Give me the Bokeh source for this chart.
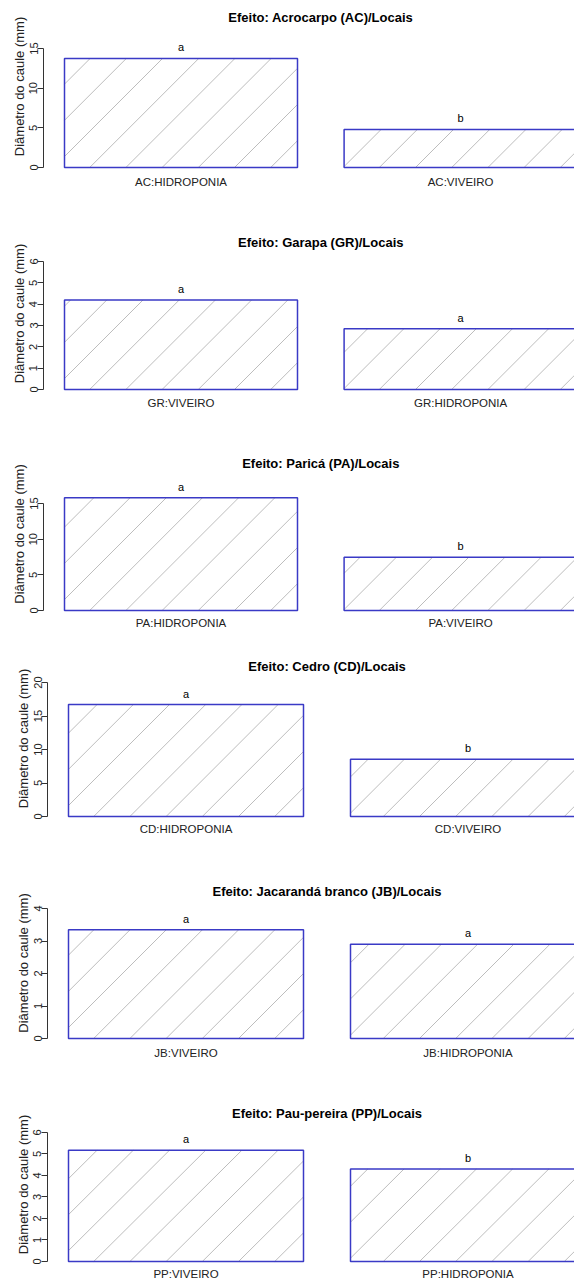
from bokeh.plotting import figure
from bokeh.models import FixedTicker, Range1d, ColumnDataSource
from bokeh.core.properties import value
from bokeh.embed import file_html
from bokeh.resources import INLINE

# ---------------- data ----------------
titles = [
    "Efeito: Acrocarpo (AC)/Locais",
    "Efeito: Garapa (GR)/Locais",
    "Efeito: Paricá (PA)/Locais",
    "Efeito: Cedro (CD)/Locais",
    "Efeito: Jacarandá branco (JB)/Locais",
    "Efeito: Pau-pereira (PP)/Locais",
]
cats_ac = ["AC:HIDROPONIA", "AC:VIVEIRO"]
cats_gr = ["GR:VIVEIRO", "GR:HIDROPONIA"]
cats_pa = ["PA:HIDROPONIA", "PA:VIVEIRO"]
cats_cd = ["CD:HIDROPONIA", "CD:VIVEIRO"]
cats_jb = ["JB:VIVEIRO", "JB:HIDROPONIA"]
cats_pp = ["PP:VIVEIRO", "PP:HIDROPONIA"]

vals_ac = [13.75, 4.8]
vals_gr = [4.2, 2.85]
vals_pa = [15.8, 7.47]
vals_cd = [16.7, 8.55]
vals_jb = [3.35, 2.9]
vals_pp = [5.17, 4.3]

letters_ac = ["a", "b"]
letters_gr = ["a", "a"]
letters_pa = ["a", "b"]
letters_cd = ["a", "b"]
letters_jb = ["a", "a"]
letters_pp = ["a", "b"]

yticks_ac = [0, 5, 10, 15]
yticks_gr = [0, 1, 2, 3, 4, 5, 6]
yticks_pa = [0, 5, 10, 15]
yticks_cd = [0, 5, 10, 15, 20]
yticks_jb = [0, 1, 2, 3, 4]
yticks_pp = [0, 1, 2, 3, 4, 5, 6]

ylabel = "Diâmetro do caule (mm)"

panels = [
    (titles[0], cats_ac, vals_ac, letters_ac, yticks_ac),
    (titles[1], cats_gr, vals_gr, letters_gr, yticks_gr),
    (titles[2], cats_pa, vals_pa, letters_pa, yticks_pa),
    (titles[3], cats_cd, vals_cd, letters_cd, yticks_cd),
    (titles[4], cats_jb, vals_jb, letters_jb, yticks_jb),
    (titles[5], cats_pp, vals_pp, letters_pp, yticks_pp),
]

# ---------------- layout (page pixels) ----------------
fig_top = [0, 233, 454, 657, 882, 1104]
fig_bottom = [233, 454, 657, 882, 1104, 1282]
title_px = [17, 242, 463, 666, 891, 1113]
ytop_px = [48, 261, 503, 682, 908, 1132]
zero_px = [167, 389, 610, 816, 1038, 1262]
xlab_px = [182, 403, 623, 829, 1053, 1275]
frame_left = [43, 43, 43, 47, 47, 47]
bar_left_px = [64, 64, 64, 68, 68, 68]
bar_w_px = [233, 233, 233, 235, 235, 235]
page_right = 574

bar_space = 0.2
bar_width = 1.0

# shading lines (45 deg on screen), spacing and phase in pixels
hatch_step = 36.2
hatch_phase = 10.0

FONT = "Liberation Sans"
BLUE = "#3a3ac6"
HATCH = "#bdbdbd"

figs = []
for i, (title, cats, vals, letters, ticks) in enumerate(panels):
    s = (zero_px[i] - ytop_px[i]) / ticks[-1]
    Ft = fig_top[i]
    Fb = xlab_px[i] - 10
    H = fig_bottom[i] - fig_top[i]
    y0 = -(Fb - zero_px[i]) / s
    y1 = (zero_px[i] - Ft) / s
    pxu = bar_w_px[i]
    x0 = bar_space - (bar_left_px[i] - frame_left[i]) / pxu
    x1 = bar_space + (page_right - bar_left_px[i]) / pxu

    lefts = [bar_space + k * (bar_width + bar_space) for k in range(len(vals))]
    rights = [l + bar_width for l in lefts]
    centers = [l + bar_width / 2 for l in lefts]

    def dx2px(x):
        return frame_left[i] + (x - x0) * pxu

    def px2dx(px):
        return x0 + (px - frame_left[i]) / pxu

    def dy2px(y):
        return zero_px[i] - y * s

    def px2dy(py):
        return (zero_px[i] - py) / s

    # hatch segments derived from each bar's rectangle (lines x + y = c on screen)
    hx0, hy0, hx1, hy1 = [], [], [], []
    Z0 = dy2px(0)
    for l, r, v in zip(lefts, rights, vals):
        L, R, T, Z = dx2px(l), dx2px(r), dy2px(v), Z0
        for k in range(-60, 60):
            c = frame_left[i] + hatch_phase + k * hatch_step + Z0
            xa = max(L, c - Z)
            xb = min(R, c - T)
            if xa < xb:
                hx0.append(px2dx(xa)); hy0.append(px2dy(c - xa))
                hx1.append(px2dx(xb)); hy1.append(px2dy(c - xb))

    p = figure(width=574, height=H, output_backend="svg", toolbar_location=None,
               x_range=Range1d(x0, x1), y_range=Range1d(y0, y1),
               min_border_left=frame_left[i], min_border_right=0,
               min_border_top=0, min_border_bottom=fig_bottom[i] - Fb)
    p.outline_line_color = None
    p.xgrid.visible = False
    p.ygrid.visible = False
    p.background_fill_color = "white"
    p.border_fill_color = "white"

    src = ColumnDataSource(dict(left=lefts, right=rights, top=vals,
                                bottom=[0] * len(vals), x=centers,
                                letter=letters))
    p.segment(x0=hx0, y0=hy0, x1=hx1, y1=hy1, line_color=HATCH, line_width=1)
    p.quad(left="left", right="right", top="top", bottom="bottom", source=src,
           fill_color=None, line_color=BLUE, line_width=1.5)
    p.text(x="x", y="top", text="letter", source=src,
           text_font=value(FONT), text_font_size="11px", text_color="black",
           text_align="center", text_baseline="alphabetic", y_offset=-11)

    # title, centred on the plotting region
    tsrc = ColumnDataSource(dict(x=[(lefts[0] + rights[-1]) / 2],
                                 y=[(zero_px[i] - title_px[i]) / s],
                                 t=[title]))
    p.text(x="x", y="y", text="t", source=tsrc,
           text_font=value(FONT), text_font_size="13px", text_font_style="bold",
           text_color="black", text_align="center", text_baseline="middle")

    # y axis
    ya = p.yaxis[0]
    ya.ticker = FixedTicker(ticks=ticks)
    ya.bounds = (ticks[0], ticks[-1])
    ya.axis_label = ylabel
    ya.axis_label_text_font = FONT
    ya.axis_label_text_font_size = "13px"
    ya.axis_label_text_font_style = "normal"
    ya.axis_label_text_color = "#222222"
    ya.axis_label_standoff = 0
    ya.major_label_text_font = FONT
    ya.major_label_text_font_size = "11px"
    ya.major_label_text_color = "#222222"
    ya.major_label_orientation = "vertical"
    ya.major_label_standoff = 0
    ya.major_tick_out = 6
    ya.major_tick_in = 0
    ya.minor_tick_out = 0
    ya.minor_tick_in = 0
    ya.axis_line_color = "#333333"
    ya.major_tick_line_color = "#333333"

    # x axis: category names under the bars
    xa = p.xaxis[0]
    xa.ticker = FixedTicker(ticks=centers)
    xa.major_label_overrides = {c: n for c, n in zip(centers, cats)}
    xa.major_label_text_font = FONT
    xa.major_label_text_font_size = "11.5px"
    xa.major_label_text_color = "#222222"
    xa.major_label_standoff = 3
    xa.axis_line_color = None
    xa.major_tick_line_color = None
    xa.minor_tick_line_color = None
    xa.major_tick_out = 0
    xa.major_tick_in = 0

    figs.append(p)

# separate roots so that each panel keeps its own frame position
open("out.html", "w").write(file_html(figs, INLINE))
